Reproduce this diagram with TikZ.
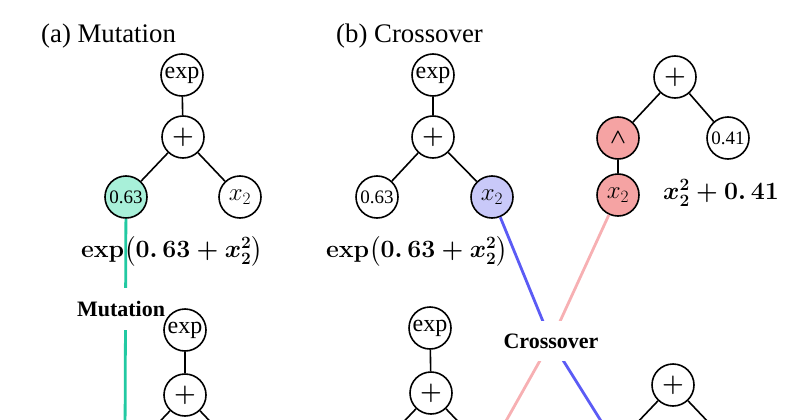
\documentclass[tikz,border=0pt]{standalone}
\usepackage{fontspec}
\setmainfont{Liberation Serif}
\usepackage{amsmath}
\definecolor{mintfill}{HTML}{A8F0D9}
\definecolor{mintline}{HTML}{22C9A2}
\definecolor{lavfill}{HTML}{C9C9F9}
\definecolor{lavline}{HTML}{5B5BF5}
\definecolor{pinkfill}{HTML}{F5A3A3}
\definecolor{pinkline}{HTML}{F7B0B3}
\begin{document}
\begin{tikzpicture}[x=1pt,y=-1pt,
  tn/.style={circle,draw,line width=1.6pt,minimum size=42pt,inner sep=0pt,fill=white},
  txtfont/.style={font=\fontsize{24}{26}\selectfont},
  opfont/.style={font=\fontsize{27}{29}\selectfont},
  plusfont/.style={font=\fontsize{27}{29}\selectfont\boldmath},
  wedgefont/.style={font=\fontsize{22}{24}\selectfont\boldmath},
  numfont/.style={font=\fontsize{19}{21}\selectfont},
  edge/.style={line width=1.6pt},
  heading/.style={inner sep=0pt,anchor=base west,font=\fontsize{26.8}{30}\selectfont},
  expr/.style={inner sep=0pt,font=\fontsize{24.5}{28}\selectfont\boldmath},
  oplabel/.style={fill=white,inner xsep=1pt,inner ysep=13pt,font=\fontsize{22}{26}\selectfont\bfseries},
  colline/.style={line width=2.8pt},
]
\useasboundingbox (0,0) rectangle (800,420);
\clip (0,0) rectangle (800,420);

% headings
\node[heading] (ha) at (41,43) {(a) Mutation};
\node[heading] (hb) at (336,43) {(b) Crossover};

% (a) upper tree
\node[tn,txtfont] (aexp) at (182,75) {exp};
\node[tn,plusfont] (aplus) at (183,137) {$+$};
\node[tn,numfont,fill=mintfill] (a063) at (126,197) {0.63};
\node[tn,opfont] (ax2) at (240,197) {$x_2$};
\draw[edge] (aexp) -- (aplus);
\draw[edge] (aplus) -- (a063);
\draw[edge] (aplus) -- (ax2);

% (b) left upper tree
\node[tn,txtfont] (bexp) at (433,75) {exp};
\node[tn,plusfont] (bplus) at (433,137) {$+$};
\node[tn,numfont] (b063) at (377,197) {0.63};
\node[tn,opfont,fill=lavfill] (bx2) at (492,197) {$x_2$};
\draw[edge] (bexp) -- (bplus);
\draw[edge] (bplus) -- (b063);
\draw[edge] (bplus) -- (bx2);

% (b) right upper tree
\node[tn,plusfont] (cplus) at (675,77) {$+$};
\node[tn,wedgefont,fill=pinkfill] (cwedge) at (618,138) {$\wedge$};
\node[tn,numfont] (c041) at (728,138) {0.41};
\node[tn,opfont,fill=pinkfill] (cx2) at (618,195) {$x_2$};
\draw[edge] (cplus) -- (cwedge);
\draw[edge] (cplus) -- (c041);
\draw[edge] (cwedge) -- (cx2);

% expressions
\node[expr] (ea) at (172,251) {$\mathbf{exp}{\left(0.\,63+x_2^2\right)}$};
\node[expr] (eb) at (417,251) {$\mathbf{exp}{\left(0.\,63+x_2^2\right)}$};
\node[expr] (ec) at (721,193) {$x_2^2+0.\,41$};

% off-frame ends
\coordinate (gend) at (125,440);
\coordinate (dl) at (128,455);
\coordinate (dr) at (242,455);
\coordinate (el) at (374,453);
\coordinate (er) at (488,453);
\coordinate (fl) at (616,445);
\coordinate (fr) at (730,445);
\coordinate (xc) at (551,341);

% coloured connectors
\draw[colline,mintline] (a063) -- (gend);
\draw[colline,lavline] (bx2) -- (xc) -- (fl);
\draw[colline,pinkline] (cx2) -- (xc) -- (er);

% operation labels
\node[oplabel] (mut) at (121,309) {Mutation};
\node[oplabel] (cro) at (551,341) {Crossover};

% lower trees
\node[tn,txtfont] (dexp) at (185,330) {exp};
\node[tn,plusfont] (dplus) at (185,395) {$+$};
\draw[edge] (dexp) -- (dplus);
\draw[edge] (dplus) -- (dl);
\draw[edge] (dplus) -- (dr);

\node[tn,txtfont] (eexp) at (430,328) {exp};
\node[tn,plusfont] (eplus) at (431,393) {$+$};
\draw[edge] (eexp) -- (eplus);
\draw[edge] (eplus) -- (el);
\draw[edge] (eplus) -- (er);

\node[tn,plusfont] (fplus) at (673,385) {$+$};
\draw[edge] (fplus) -- (fl);
\draw[edge] (fplus) -- (fr);
\end{tikzpicture}
\end{document}
